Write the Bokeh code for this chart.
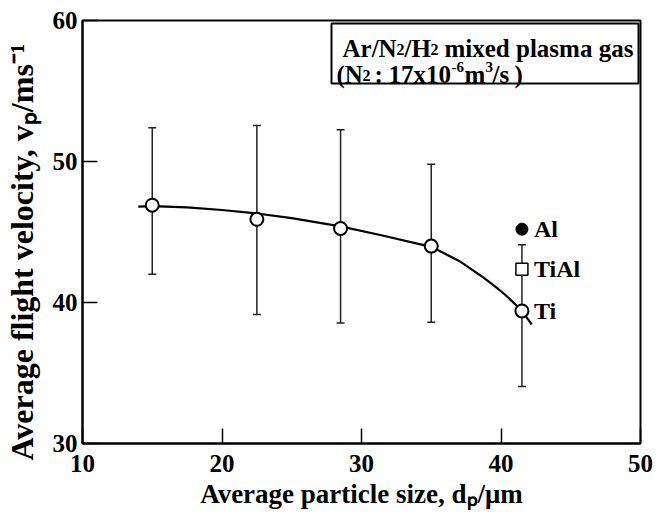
import math
from bokeh.plotting import figure
from bokeh.models import (ColumnDataSource, Whisker, TeeHead, Label,
                          BoxAnnotation, FixedTicker, Range1d)
from bokeh.embed import file_html
from bokeh.resources import INLINE

# ---------------- data ----------------
size_um = [15.0, 22.5, 28.5, 35.0, 41.5]
velocity = [46.9, 45.9, 45.25, 44.0, 39.4]
vel_upper = [52.4, 52.55, 52.25, 49.8, 44.1]
vel_lower = [42.0, 39.15, 38.55, 38.6, 34.05]

al_size = [41.5]
al_vel = [45.2]
tial_size = [41.5]
tial_vel = [42.35]

fit_size = [14.0, 15.0, 17.5, 20.0, 22.5, 25.0, 28.5, 31.5, 35.0, 37.0,
            38.7, 39.5, 40.3, 41.0, 41.5, 42.2]
fit_vel = [46.8, 46.84, 46.74, 46.56, 46.31, 45.98, 45.4, 44.75, 43.95,
           42.95, 41.8, 41.2, 40.55, 39.9, 39.4, 38.45]

x_ticks = [10, 20, 30, 40, 50]
y_ticks = [30, 40, 50, 60]

x_title = "Average particle size, d\u209a/\u03bcm"
# trailing no-break spaces shift the centred title downwards, as in the original
y_title = "Average flight velocity, v\u209a/ms\u207b\u00b9" + "\u00a0" * 5

FONT = "Liberation Serif"
L, T, W, H = 80, 20, 558, 423      # frame position on the canvas (px)
X0, X1, Y0, Y1 = 10, 50, 30, 60


def dx(px):
    return X0 + (px - L) * (X1 - X0) / W


def dy(py):
    return Y0 + (T + H - py) * (Y1 - Y0) / H


p = figure(frame_width=W, frame_height=H,
           min_border_left=L, min_border_top=T,
           min_border_right=20, min_border_bottom=72,
           x_range=Range1d(X0, X1), y_range=Range1d(Y0, Y1),
           output_backend="svg", toolbar_location=None)
p.grid.visible = False
p.outline_line_color = "black"
p.outline_line_width = 2
p.background_fill_color = "white"
p.border_fill_color = "white"

p.xaxis.ticker = FixedTicker(ticks=x_ticks)
p.yaxis.ticker = FixedTicker(ticks=y_ticks)
for ax in (p.xaxis[0], p.yaxis[0]):
    ax.major_tick_in = 15
    ax.major_tick_out = 0
    ax.minor_tick_in = 0
    ax.minor_tick_out = 0
    ax.major_tick_line_width = 1.5
    ax.major_tick_line_color = "black"
    ax.axis_line_width = 2
    ax.axis_line_color = "black"
    ax.major_label_text_font = FONT
    ax.major_label_text_font_style = "bold"
    ax.major_label_text_font_size = "25px"
    ax.major_label_text_color = "black"
    ax.axis_label_text_font = FONT
    ax.axis_label_text_font_style = "bold"
    ax.axis_label_text_color = "black"
p.xaxis.major_label_standoff = 11
p.yaxis.major_label_standoff = 5
p.xaxis.axis_label = x_title
p.xaxis.axis_label_text_font_size = "27px"
p.xaxis.axis_label_standoff = 4
p.yaxis.axis_label = y_title
p.yaxis.axis_label_text_font_size = "32px"
p.yaxis.axis_label_standoff = 10

# ---------------- error bars ----------------
src = ColumnDataSource(dict(x=size_um, y=velocity, upper=vel_upper, lower=vel_lower))
err = Whisker(source=src, base="x", upper="upper", lower="lower", level="underlay",
              line_width=1.5, line_color="#222222",
              upper_head=TeeHead(size=8, line_width=1.5, line_color="#222222"),
              lower_head=TeeHead(size=8, line_width=1.5, line_color="#222222"))
p.add_layout(err)

# ---------------- curve and markers ----------------
p.line(fit_size, fit_vel, line_width=2.2, line_color="black")
p.scatter("x", "y", source=src, marker="circle", size=13,
          fill_color="white", line_color="black", line_width=2)
p.scatter(al_size, al_vel, marker="circle", size=12,
          fill_color="black", line_color="black")
p.scatter(tial_size, tial_vel, marker="square", size=12,
          fill_color="white", line_color="black", line_width=1.5)


def txt(px, py, text, size, style="bold"):
    p.add_layout(Label(x=dx(px), y=dy(py), text=text, text_font=FONT,
                       text_font_style=style, text_font_size=f"{size}px",
                       text_color="black", text_align="left",
                       text_baseline="alphabetic"))


# marker labels
for xs, ys, name in ((al_size, al_vel, "Al"), (tial_size, tial_vel, "TiAl"),
                     (size_um[-1:], velocity[-1:], "Ti")):
    p.add_layout(Label(x=xs[0], y=ys[0], x_offset=12, text=name, text_font=FONT,
                       text_font_style="bold", text_font_size="24px",
                       text_color="black", text_align="left",
                       text_baseline="middle"))

# ---------------- info box ----------------
p.add_layout(BoxAnnotation(left=dx(329), right=dx(636), top=dy(23), bottom=dy(83),
                           fill_color="white", fill_alpha=1.0,
                           line_color="black", line_width=2, line_alpha=1.0))
txt(340, 48, "Ar/N", 25)
txt(394, 49, "2", 16)
txt(402, 48, "/H", 25)
txt(428, 49, "2", 16)
txt(442, 48, "mixed plasma gas", 25)

txt(334, 74, "(N", 25)
txt(360, 75, "2", 16)
txt(372, 74, ":", 25)
txt(386, 74, "17x10", 25)
txt(449, 66, "-6", 15)
txt(462, 74, "m", 25)
txt(483, 66, "3", 15)
txt(490, 74, "/s", 25)
txt(512, 74, ")", 25)

open("out.html", "w").write(file_html(p, INLINE))
